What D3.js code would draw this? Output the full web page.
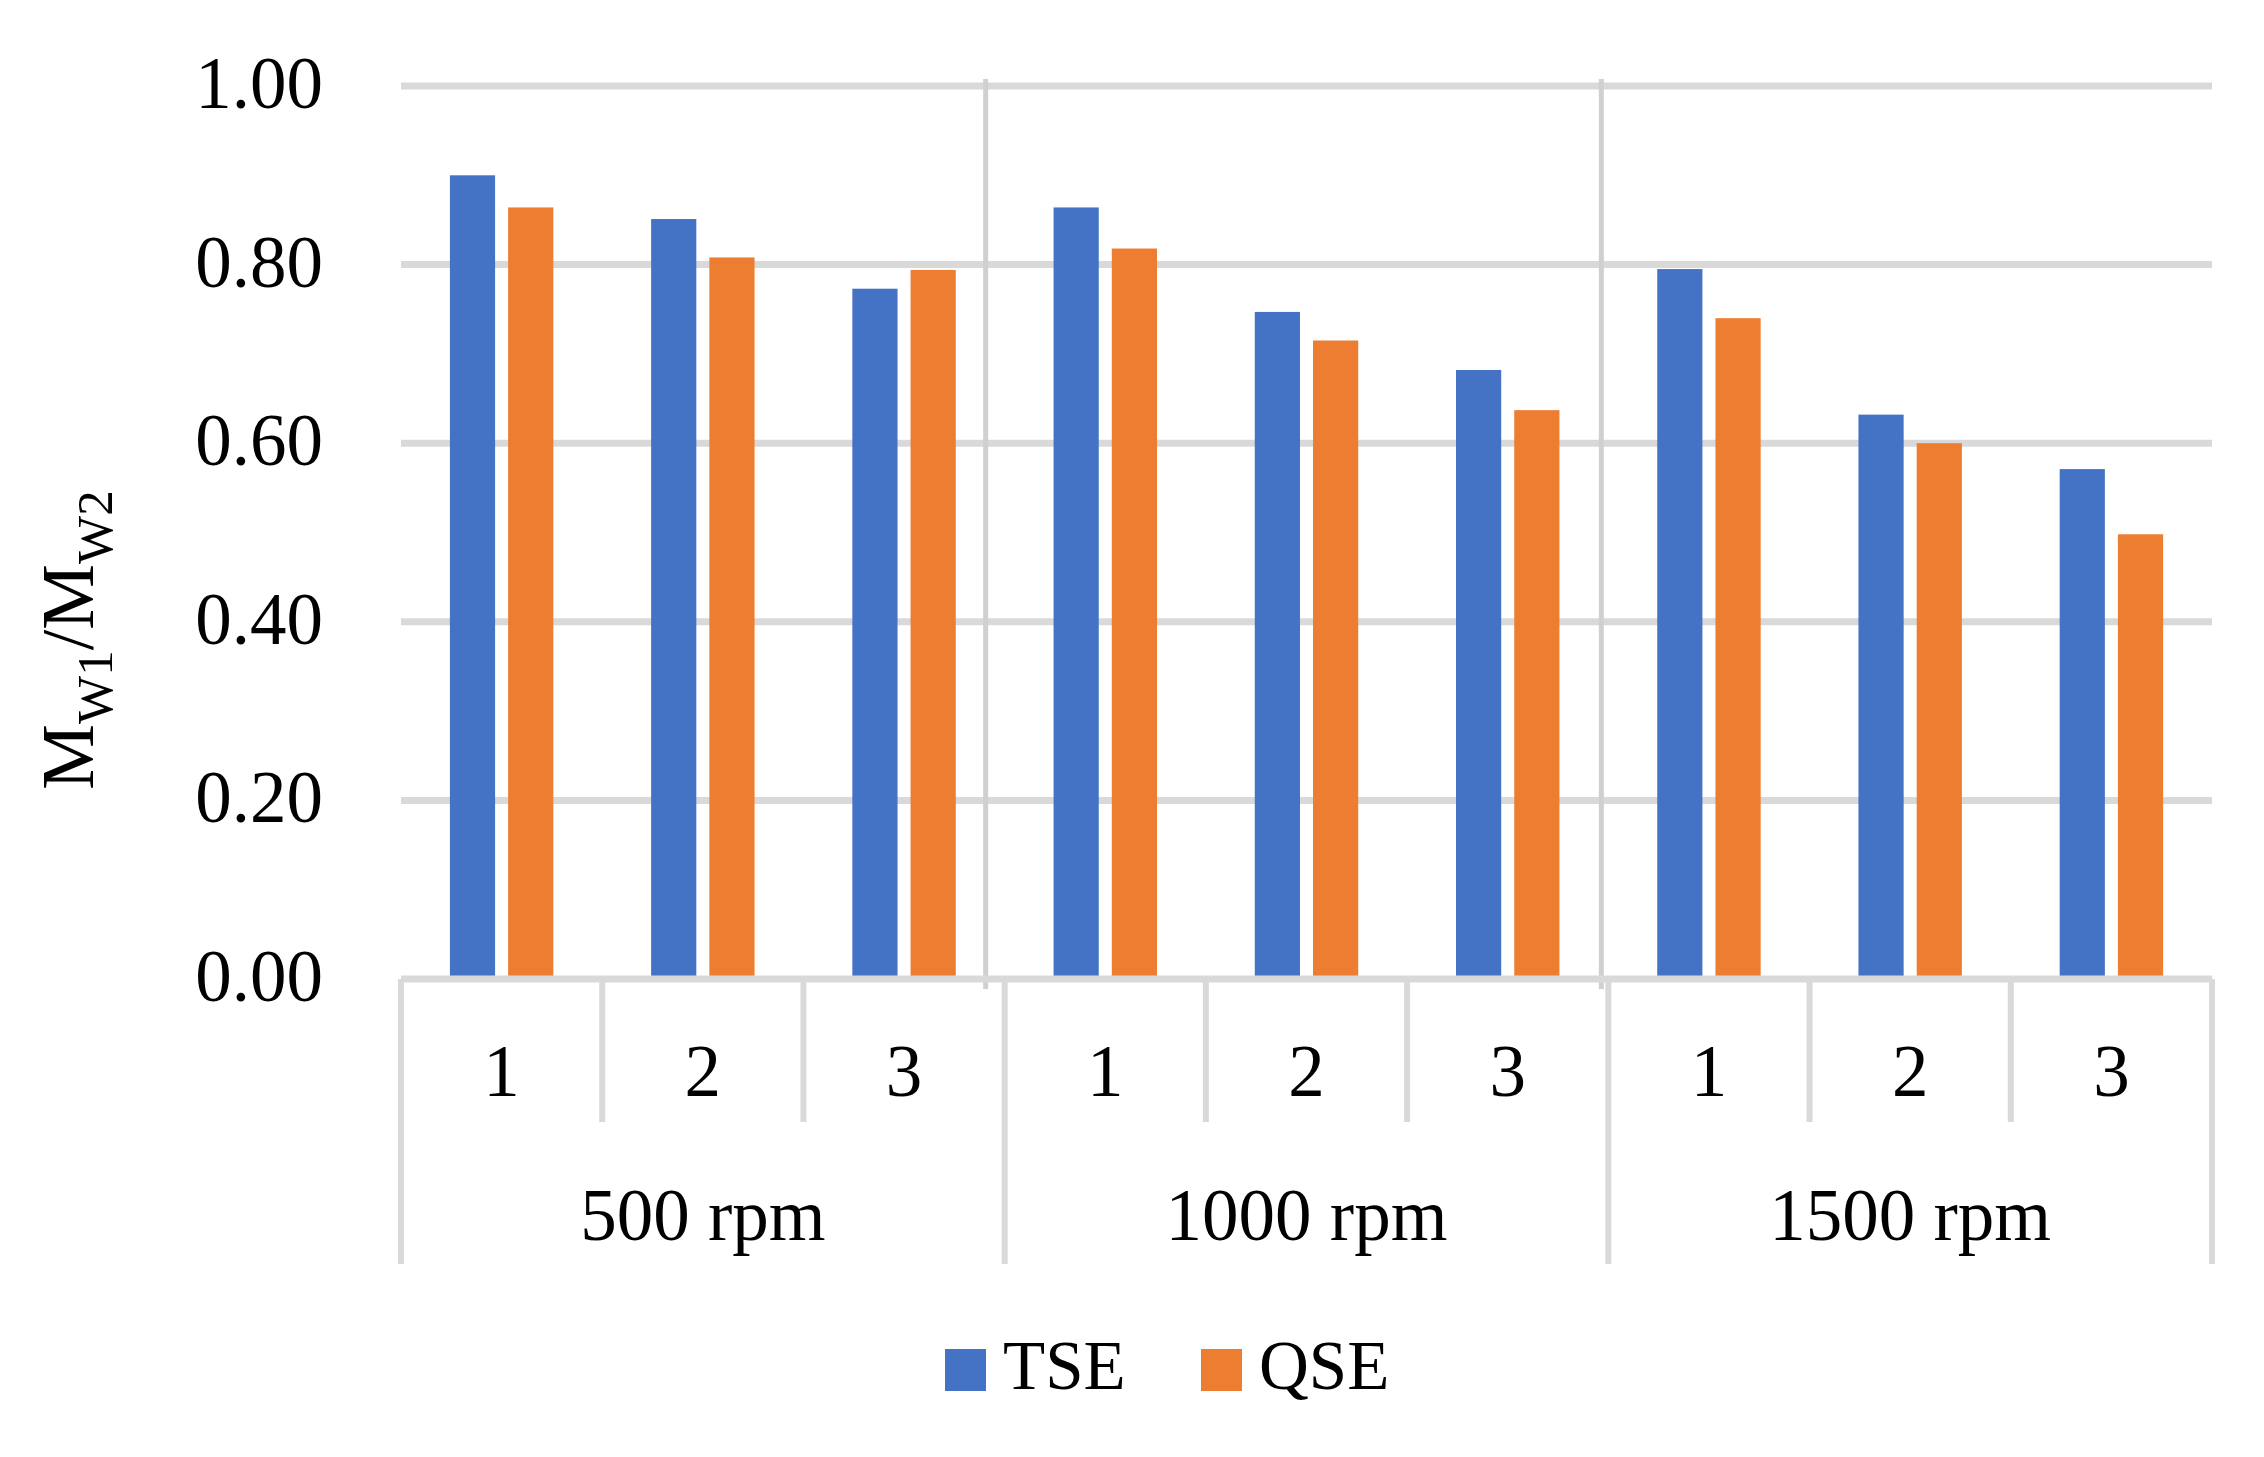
<!DOCTYPE html>
<html>
<head>
<meta charset="UTF-8">
<title>MW1/MW2 ratio by speed</title>
<script src="https://d3js.org/d3.v7.min.js"></script>
<style>
body { margin: 0; background: #fff; }
text { font-family: "Liberation Serif", "Times New Roman", serif; fill: #000; }
</style>
</head>
<body>
<figure class=chart style="margin:0"></figure>

<script type="text/javascript">

/* Data */
var groups = ['500 rpm', '1000 rpm', '1500 rpm'];
var cases = ['1', '2', '3'];
var series = ['TSE', 'QSE'];
var tseValues = [0.900, 0.851, 0.773, 0.864, 0.747, 0.682, 0.795, 0.632, 0.571];
var qseValues = [0.864, 0.808, 0.794, 0.818, 0.715, 0.637, 0.740, 0.600, 0.498];
var yTicks = [0, 0.2, 0.4, 0.6, 0.8, 1.0];

/* Global variables */
var W = 2264, H = 1457
var plotLeft = 401, plotRight = 2212, plotTop = 86, plotBottom = 979
var colors = ['#4472c4', '#ed7d31']
var gridColor = '#d9d9d9'

// one entry per bar category (group x case)
var cats = []
groups.forEach(function(g, gi) {
	cases.forEach(function(c, ci) {
		var i = gi * cases.length + ci
		cats.push({ id: i, group: g, label: c, values: [tseValues[i], qseValues[i]] })
	})
})

var x0 = d3.scaleBand()
	.domain(cats.map(function(d) { return d.id; }))
	.range([plotLeft, plotRight])
var bw = x0.bandwidth()
var x1 = d3.scaleBand()
	.domain(series)
	.range([bw * 0.243, bw * 0.757])
	.paddingInner(0.224)
var y = d3.scaleLinear()
	.domain([0, 1])
	.range([plotBottom, plotTop])

/* Functions */

var svg = d3.select('figure')
	.append('svg')
	.attr('width', W)
	.attr('height', H)

function draw_grid() {
	svg.append('g')
		.selectAll('line')
		.data(yTicks.slice(1))
		.enter()
		.append('line')
		.attr('x1', plotLeft)
		.attr('x2', plotRight)
		.attr('y1', function(d) { return y(d); })
		.attr('y2', function(d) { return y(d); })
		.style('stroke', gridColor)
		.style('stroke-width', 7)

	// group separators inside the plot (slightly left of the boundaries, as in the original)
	var sepX = [x0(3) - 19, x0(6) - 7]
	svg.append('g')
		.selectAll('line')
		.data(sepX)
		.enter()
		.append('line')
		.attr('x1', function(d) { return d; })
		.attr('x2', function(d) { return d; })
		.attr('y1', plotTop - 7)
		.attr('y2', plotBottom + 10)
		.style('stroke', '#d0d0d0')
		.style('stroke-width', 5)
}

function draw_bars() {
	var g = svg.append('g')
		.selectAll('g')
		.data(cats)
		.enter()
		.append('g')
		.attr('transform', function(d) { return 'translate(' + x0(d.id) + ',0)'; })

	g.selectAll('rect')
		.data(function(d) { return d.values.map(function(v, i) { return { s: series[i], v: v, i: i }; }); })
		.enter()
		.append('rect')
		.attr('x', function(d) { return x1(d.s); })
		.attr('width', x1.bandwidth())
		.attr('y', function(d) { return y(d.v); })
		.attr('height', function(d) { return y(0) - y(d.v) - 3; })
		.style('fill', function(d) { return colors[d.i]; })
}

function draw_axes() {
	// y tick labels
	svg.append('g')
		.selectAll('text')
		.data(yTicks)
		.enter()
		.append('text')
		.attr('x', plotLeft - 78)
		.attr('y', function(d) { return y(d) + 22; })
		.attr('text-anchor', 'end')
		.style('font-size', '73px')
		.text(function(d) { return d3.format('.2f')(d); })

	// x axis line
	svg.append('line')
		.attr('x1', plotLeft).attr('x2', plotRight)
		.attr('y1', plotBottom).attr('y2', plotBottom)
		.style('stroke', gridColor)
		.style('stroke-width', 7)

	// category separators: short inside groups, long between groups
	var bounds = d3.range(cats.length + 1)
	svg.append('g')
		.selectAll('line')
		.data(bounds)
		.enter()
		.append('line')
		.attr('x1', function(d) { return d < cats.length ? x0(d) : plotRight; })
		.attr('x2', function(d) { return d < cats.length ? x0(d) : plotRight; })
		.attr('y1', plotBottom)
		.attr('y2', function(d) { return d % cases.length == 0 ? 1264 : 1122; })
		.style('stroke', gridColor)
		.style('stroke-width', 6)

	// case labels
	svg.append('g')
		.selectAll('text')
		.data(cats)
		.enter()
		.append('text')
		.attr('x', function(d) { return x0(d.id) + bw / 2; })
		.attr('y', 1096)
		.attr('text-anchor', 'middle')
		.style('font-size', '73px')
		.text(function(d) { return d.label; })

	// group labels
	svg.append('g')
		.selectAll('text')
		.data(groups)
		.enter()
		.append('text')
		.attr('x', function(d, i) { return (x0(i * 3) + x0(i * 3 + 2) + bw) / 2; })
		.attr('y', 1240)
		.attr('text-anchor', 'middle')
		.style('font-size', '73px')
		.text(function(d) { return d; })

	// y axis title
	var t = svg.append('text')
		.attr('transform', 'translate(93,640) rotate(-90)')
		.attr('text-anchor', 'middle')
		.style('font-size', '74px')
	t.append('tspan').text('M')
	t.append('tspan').attr('dy', 19).style('font-size', '51px').text('W1')
	t.append('tspan').attr('dy', -19).text('/M')
	t.append('tspan').attr('dy', 19).style('font-size', '51px').text('W2')
}

function draw_legend() {
	var lx = [945, 1201]
	var lg = svg.append('g')
		.selectAll('g')
		.data(series)
		.enter()
		.append('g')
		.attr('transform', function(d, i) { return 'translate(' + lx[i] + ',1349)'; })
	lg.append('rect')
		.attr('width', 41)
		.attr('height', 42)
		.style('fill', function(d, i) { return colors[i]; })
	lg.append('text')
		.attr('x', 58)
		.attr('y', 40)
		.style('font-size', '69px')
		.text(function(d) { return d; })
}

/* Main code */
draw_grid()
draw_bars()
draw_axes()
draw_legend()

</script>
</body>
</html>
